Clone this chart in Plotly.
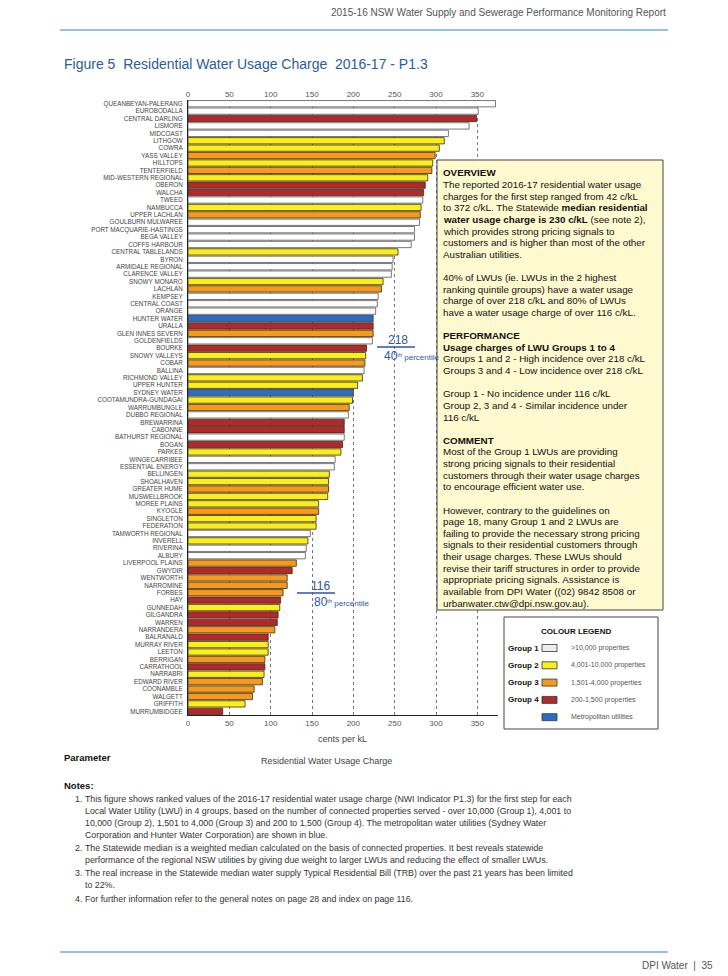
import plotly.graph_objects as go

# ---------------- data ----------------
utilities = [
    "QUEANBEYAN-PALERANG", "EUROBODALLA", "CENTRAL DARLING", "LISMORE", "MIDCOAST",
    "LITHGOW", "COWRA", "YASS VALLEY", "HILLTOPS", "TENTERFIELD",
    "MID-WESTERN REGIONAL", "OBERON", "WALCHA", "TWEED", "NAMBUCCA",
    "UPPER LACHLAN", "GOULBURN MULWAREE", "PORT MACQUARIE-HASTINGS", "BEGA VALLEY", "COFFS HARBOUR",
    "CENTRAL TABLELANDS", "BYRON", "ARMIDALE REGIONAL", "CLARENCE VALLEY", "SNOWY MONARO",
    "LACHLAN", "KEMPSEY", "CENTRAL COAST", "ORANGE", "HUNTER WATER",
    "URALLA", "GLEN INNES SEVERN", "GOLDENFIELDS", "BOURKE", "SNOWY VALLEYS",
    "COBAR", "BALLINA", "RICHMOND VALLEY", "UPPER HUNTER", "SYDNEY WATER",
    "COOTAMUNDRA-GUNDAGAI", "WARRUMBUNGLE", "DUBBO REGIONAL", "BREWARRINA", "CABONNE",
    "BATHURST REGIONAL", "BOGAN", "PARKES", "WINGECARRIBEE", "ESSENTIAL ENERGY",
    "BELLINGEN", "SHOALHAVEN", "GREATER HUME", "MUSWELLBROOK", "MOREE PLAINS",
    "KYOGLE", "SINGLETON", "FEDERATION", "TAMWORTH REGIONAL", "INVERELL",
    "RIVERINA", "ALBURY", "LIVERPOOL PLAINS", "GWYDIR", "WENTWORTH",
    "NARROMINE", "FORBES", "HAY", "GUNNEDAH", "GILGANDRA",
    "WARREN", "NARRANDERA", "BALRANALD", "MURRAY RIVER", "LEETON",
    "BERRIGAN", "CARRATHOOL", "NARRABRI", "EDWARD RIVER", "COONAMBLE",
    "WALGETT", "GRIFFITH", "MURRUMBIDGEE",
]
usage_charge = [
    372, 351, 349, 340, 315, 310, 304, 299, 296, 295,
    290, 287, 285, 284, 282, 281, 280, 274, 274, 270,
    254, 248, 247, 246, 236, 234, 230, 229, 227, 224,
    224, 224, 223, 216, 215, 214, 213, 211, 205, 200,
    199, 195, 194, 189, 189, 189, 187, 185, 178, 177,
    171, 170, 170, 169, 158, 158, 155, 155, 148, 145,
    143, 142, 131, 126, 120, 120, 115, 112, 111, 109,
    108, 105, 97, 97, 97, 93, 93, 92, 90, 80,
    78, 69, 42,
]
group = [
    "1", "1", "4", "1", "1", "2", "2", "3", "2", "3",
    "2", "4", "4", "1", "2", "3", "1", "1", "1", "1",
    "2", "1", "1", "1", "2", "3", "1", "1", "1", "M",
    "4", "3", "1", "4", "2", "3", "1", "2", "2", "M",
    "2", "3", "1", "4", "4", "1", "4", "2", "1", "1",
    "2", "2", "3", "2", "2", "3", "2", "2", "1", "2",
    "1", "1", "3", "4", "3", "3", "3", "4", "2", "4",
    "4", "3", "4", "2", "2", "3", "4", "2", "3", "3",
    "3", "2", "4",
]
x_ticks = [0, 50, 100, 150, 200, 250, 300, 350]
percentile_values = [218, 116]
percentile_labels = ["40", "80"]

legend_groups = ["Group 1", "Group 2", "Group 3", "Group 4", ""]
legend_desc = [">10,000 properties", "4,001-10,000 properties", "1,501-4,000 properties",
               "200-1,500 properties", "Metropolitan utilities"]

# ---------------- styles ----------------
fill_col = {"1": "#FFFFFF", "2": "#FAEE1C", "3": "#F7991F", "4": "#B3282D", "M": "#2F6BC1"}
edge_col = {"1": "#555555", "2": "#3A3010", "3": "#3A3010", "4": "#3A3010", "M": "#2A3A60"}
legend_swatch = ["#EEEEEE", "#FAEE1C", "#F7991F", "#B3282D", "#2F6BC1"]

W, H = 728, 976
L, R, T, B = 188, 498, 100, 715


def px(x):
    return (x - L) / (R - L)


def py(y):
    return (B - y) / (B - T)


BLUE = "#2E55A4"
FONT = "Liberation Sans, Arial, sans-serif"

fig = go.Figure()
fig.add_trace(go.Bar(
    x=usage_charge, y=utilities, orientation="h",
    marker=dict(color=[fill_col[g] for g in group],
                line=dict(color=[edge_col[g] for g in group], width=0.8)),
    showlegend=False, hoverinfo="x+y",
))
# invisible trace for the top axis
fig.add_trace(go.Scatter(x=[0, 350], y=[utilities[0], utilities[0]], xaxis="x2",
                         mode="markers", marker=dict(opacity=0), showlegend=False,
                         hoverinfo="skip"))

annotations = []
shapes = []


def text(x, y, s, size=9, color="#222", anchor="left", bold=False, family=FONT):
    annotations.append(dict(
        x=px(x), y=py(y), xref="paper", yref="paper", text=("<b>%s</b>" % s) if bold else s,
        showarrow=False, xanchor=anchor, yanchor="middle",
        font=dict(size=size, color=color, family=family)))


def hline(x0, x1, y, color, width=1):
    shapes.append(dict(type="line", xref="paper", yref="paper", x0=px(x0), x1=px(x1),
                       y0=py(y), y1=py(y), line=dict(color=color, width=width)))


def rect(x0, y0, x1, y1, fill, line="#444", width=1):
    shapes.append(dict(type="rect", xref="paper", yref="paper", x0=px(x0), x1=px(x1),
                       y0=py(y1), y1=py(y0), fillcolor=fill, line=dict(color=line, width=width),
                       layer="above"))


# header / title
text(668, 12, "2015-16 NSW Water Supply and Sewerage Performance Monitoring Report",
     size=10, color="#555", anchor="right")
hline(60, 668, 30, "#6FB0D8", 1.5)
text(62, 64, "Figure 5  Residential Water Usage Charge  2016-17 - P1.3", size=14, color="#2B5C9E")

# axis title
text(342, 739, "cents per kL", size=9, color="#444", anchor="center")

# percentile markers
text(398, 340, str(percentile_values[0]), size=12, color=BLUE, anchor="center")
hline(377, 415, 347, BLUE, 1.5)
text(382, 356, "<span style='font-size:12px'>%s</span><sup>th</sup> percentile" % percentile_labels[0],
     size=8, color=BLUE)
text(320, 586, str(percentile_values[1]), size=12, color=BLUE, anchor="center")
hline(297, 335, 593, BLUE, 1.5)
text(312, 602, "<span style='font-size:12px'>%s</span><sup>th</sup> percentile" % percentile_labels[1],
     size=8, color=BLUE)

# overview box
rect(437, 160, 663, 610, "#FEF9CF", "#444", 1)
box_lines = [
    "<b>OVERVIEW</b>",
    "The reported 2016-17 residential water usage",
    "charges for the first step ranged from 42 c/kL",
    "to 372 c/kL. The Statewide <b>median residential</b>",
    "<b>water usage charge is 230 c/kL</b> (see note 2),",
    "which provides strong pricing signals to",
    "customers and is higher than most of the other",
    "Australian utilities.",
    "",
    "40% of LWUs (ie. LWUs in the 2 highest",
    "ranking quintile groups) have a water usage",
    "charge of over 218 c/kL and 80% of LWUs",
    "have a water usage charge of over 116 c/kL.",
    "",
    "<b>PERFORMANCE</b>",
    "<b>Usage charges of LWU Groups 1 to 4</b>",
    "Groups 1 and 2 - High incidence over 218 c/kL",
    "Groups 3 and 4 - Low incidence over 218 c/kL",
    "",
    "Group 1 - No incidence under 116 c/kL",
    "Group 2, 3 and 4 - Similar incidence under",
    "116 c/kL",
    "",
    "<b>COMMENT</b>",
    "Most of the Group 1 LWUs are providing",
    "strong pricing signals to their residential",
    "customers through their water usage charges",
    "to encourage efficient water use.",
    "",
    "However, contrary to the guidelines on",
    "page 18, many Group 1 and 2 LWUs are",
    "failing to provide the necessary strong pricing",
    "signals to their residential customers through",
    "their usage charges. These LWUs should",
    "revise their tariff structures in order to provide",
    "appropriate pricing signals. Assistance is",
    "available from DPI Water ((02) 9842 8508 or",
    "urbanwater.ctw@dpi.nsw.gov.au).",
]
y0 = 173
step = (603 - 173) / (len(box_lines) - 1)
for i, ln in enumerate(box_lines):
    if ln:
        text(441, y0 + i * step, ln, size=9.8, color="#111")

# colour legend
rect(504, 617, 658, 729, "#FFFFFF", "#444", 1)
text(576, 631, "COLOUR LEGEND", size=8, color="#111", anchor="center", bold=True)
for i in range(5):
    yy = 648 + i * 17.3
    if legend_groups[i]:
        text(506, yy, legend_groups[i], size=8, color="#111", bold=True)
    rect(542, yy - 3.5, 557, yy + 3.5, legend_swatch[i], "#333", 0.8)
    text(569, yy, legend_desc[i], size=7, color="#555")

# parameter / notes
text(62, 757, "Parameter", size=9.5, color="#111", bold=True)
text(326, 761, "Residential Water Usage Charge", size=9, color="#444", anchor="center")
text(62, 785, "Notes:", size=9.5, color="#111", bold=True)
notes = [
    ("1.", "This figure shows ranked values of the 2016-17 residential water usage charge (NWI Indicator P1.3) for the first step for each"),
    ("", "Local Water Utility (LWU) in 4 groups, based on the number of connected properties served - over 10,000 (Group 1), 4,001 to"),
    ("", "10,000 (Group 2), 1,501 to 4,000 (Group 3) and 200 to 1,500 (Group 4). The metropolitan water utilities (Sydney Water"),
    ("", "Corporation and Hunter Water Corporation) are shown in blue."),
    ("2.", "The Statewide median is a weighted median calculated on the basis of connected properties. It best reveals statewide"),
    ("", "performance of the regional NSW utilities by giving due weight to larger LWUs and reducing the effect of smaller LWUs."),
    ("3.", "The real increase in the Statewide median water supply Typical Residential Bill (TRB) over the past 21 years has been limited"),
    ("", "to 22%."),
    ("4.", "For further information refer to the general notes on page 28 and index on page 116."),
]
note_y = [799, 811, 823, 835, 848, 860, 873, 885, 899]
for (num, ln), yy in zip(notes, note_y):
    if num:
        text(73, yy, num, size=8.8, color="#333")
    text(83, yy, ln, size=8.8, color="#333")

# footer
hline(60, 668, 952, "#6FB0D8", 1.5)
text(715, 965, "DPI Water  |  35", size=10, color="#555", anchor="right")

fig.update_layout(
    width=W, height=H, autosize=False,
    margin=dict(l=L, r=W - R, t=T, b=H - B, pad=0),
    paper_bgcolor="white", plot_bgcolor="white",
    bargap=0.15,
    font=dict(family=FONT),
    xaxis=dict(range=[0, 375], tickvals=x_ticks, showgrid=True, gridcolor="#777",
               griddash="dot", gridwidth=0.8, zeroline=False, showline=True,
               linecolor="#222", linewidth=1, tickfont=dict(size=8, color="#555"),
               ticks="", fixedrange=True),
    xaxis2=dict(overlaying="x", side="top", matches="x", range=[0, 375], tickvals=x_ticks,
                showgrid=False, zeroline=False, showline=False,
                tickfont=dict(size=8, color="#555"), ticks=""),
    yaxis=dict(categoryorder="array", categoryarray=utilities, range=[82.5, -0.5],
               tickmode="array", tickvals=utilities, ticktext=utilities,
               showline=True, linecolor="#222", linewidth=1, showgrid=False,
               tickfont=dict(size=6.3, color="#444"), ticks="", ticklabelstandoff=3),
    annotations=annotations,
    shapes=shapes,
)

fig.write_html("out.html", config={"displayModeBar": False},
               post_script="document.body.style.margin='0';"
               "document.body.style.overflow='hidden';")
